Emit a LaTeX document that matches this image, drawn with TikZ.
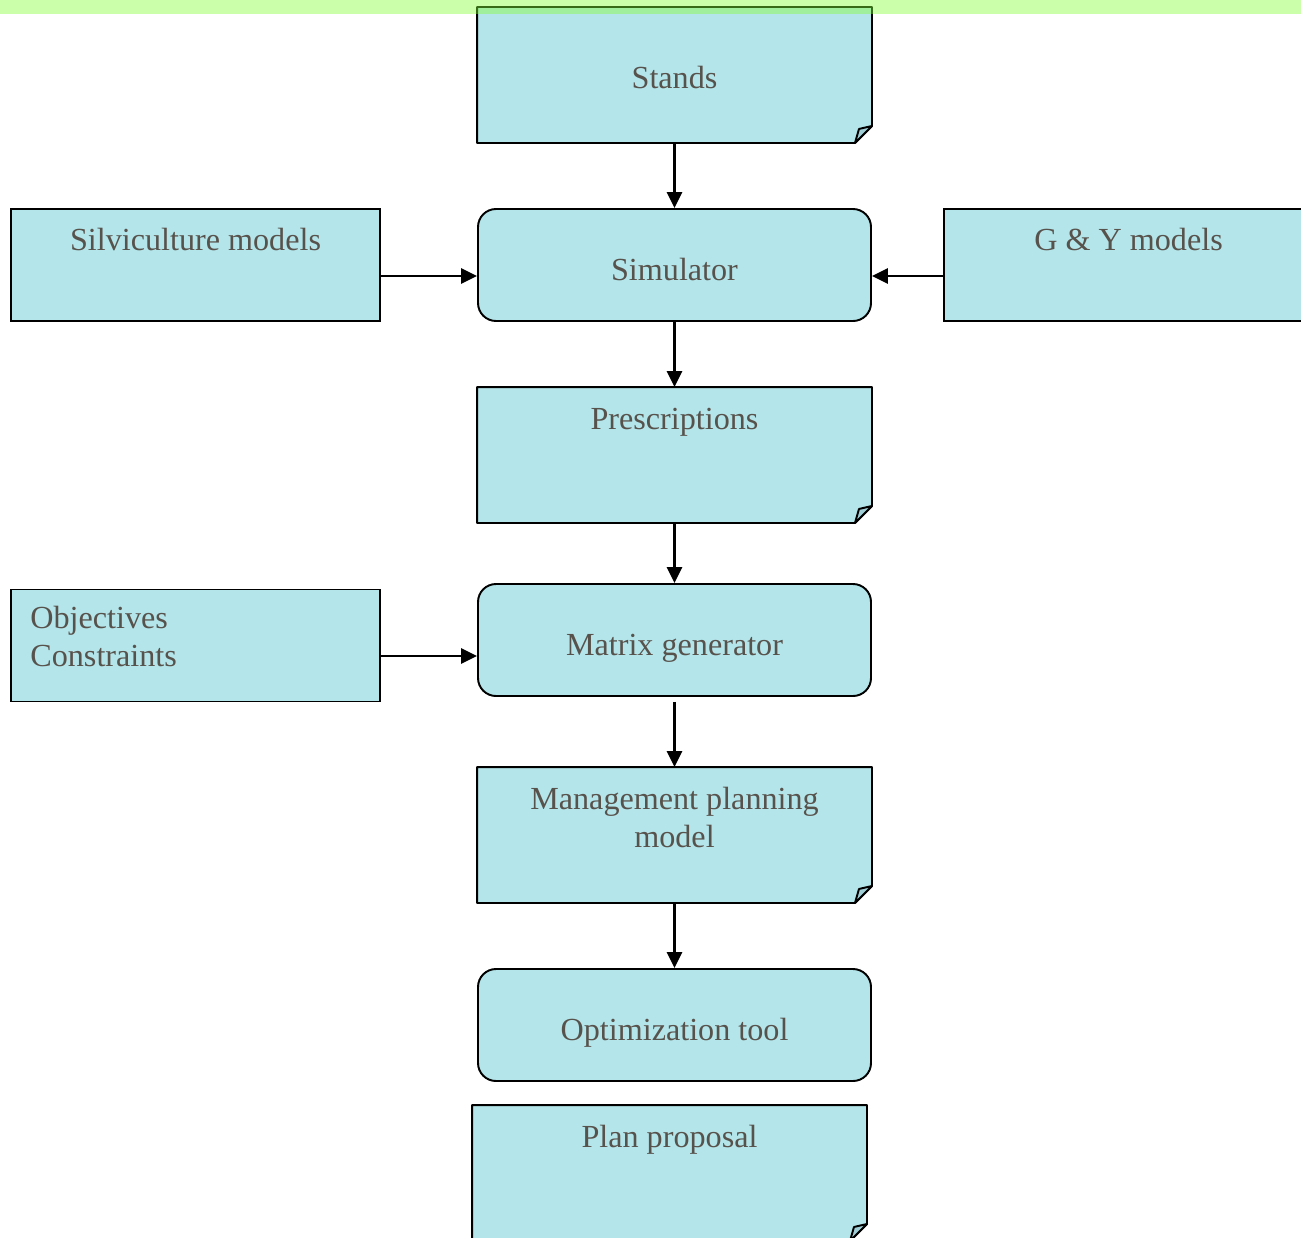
\documentclass[tikz,border=0pt]{standalone}
\usepackage{fontspec}
\setmainfont{Liberation Serif}
\usepackage{tikz}
\usetikzlibrary{arrows.meta}

\definecolor{boxcyan}{RGB}{179,229,234}
\definecolor{foldcyan}{RGB}{160,206,214}
\definecolor{textgray}{RGB}{88,82,76}
\definecolor{bandgreen}{RGB}{133,255,52}

\tikzset{
  box/.style={rectangle, draw=black, line width=1.1pt, fill=boxcyan,
    minimum width=7.86cm, minimum height=2.24cm, inner sep=0pt},
  roundbox/.style={box, rounded corners=0.36cm, text height=0.74cm, text depth=0.14cm},
  sidebox/.style={box, minimum width=7.38cm},
  doc/.style={box, draw=none, fill=none, minimum height=2.68cm,
    append after command={\pgfextra{
      \filldraw[line width=1.1pt, line join=round, fill=boxcyan]
        (\tikzlastnode.north west) -- (\tikzlastnode.north east)
        -- ([yshift=0.34cm]\tikzlastnode.south east) -- ([xshift=-0.34cm]\tikzlastnode.south east)
        -- (\tikzlastnode.south west) -- cycle;
      \filldraw[line width=1.1pt, line join=round, fill=foldcyan]
        ([xshift=-0.34cm]\tikzlastnode.south east)
        -- ([xshift=-0.26cm,yshift=0.28cm]\tikzlastnode.south east)
        -- ([yshift=0.34cm]\tikzlastnode.south east) -- cycle;
    }}},
  toptext/.style={label={[anchor=base, align=center, inner sep=0pt, yshift=-0.85cm]north:#1}}
}

\begin{document}
\begin{tikzpicture}[every node/.style={font=\fontsize{18.3}{21.5}\selectfont, text=textgray}]
  \useasboundingbox (0,0) rectangle (26.02,-24.74);

  % boxes
  \node[doc, text height=0.70cm, text depth=0.14cm] (St) at (13.49,-1.5) {Stands};
  \node[roundbox] (Sim) at (13.49,-5.3) {Simulator};
  \node[sidebox, toptext={Silviculture models}] (Sv) at (3.91,-5.3) {};
  \node[sidebox, toptext={G \& Y models}] (GY) at (22.57,-5.3) {};
  \node[doc, toptext={Prescriptions}] (Pr) at (13.49,-9.1) {};
  \node[roundbox] (Mx) at (13.49,-12.8) {Matrix generator};
  \node[sidebox, label={[anchor=base west, align=left, inner sep=0pt, xshift=0.4cm, yshift=-1.56cm]north west:Objectives\\Constraints}] (Ob) at (3.91,-12.91) {};
  \node[doc, label={[anchor=base, align=center, inner sep=0pt, yshift=-1.6cm]north:Management planning\\model}] (Mg) at (13.49,-16.7) {};
  \node[roundbox] (Op) at (13.49,-20.5) {Optimization tool};
  \node[doc, toptext={Plan proposal}] (Pl) at (13.39,-23.46) {};

  % arrows
  \begin{scope}[>={Triangle[length=0.32cm,width=0.3cm]}, line width=1.5pt]
    \draw [->] (St) -- (Sim);
    \draw [->] ([yshift=-0.22cm]Sv.east) -- ([yshift=-0.22cm]Sim.west);
    \draw [->] ([yshift=-0.22cm]GY.west) -- ([yshift=-0.22cm]Sim.east);
    \draw [->] (Sim) -- (Pr);
    \draw [->] (Pr) -- (Mx);
    \draw [->] ([yshift=-0.21cm]Ob.east) -- ([yshift=-0.21cm]Ob.east -| Mx.west);
    \draw [->, shorten <=0.1cm] (Mx) -- (Mg);
    \draw [->] (Mg) -- (Op);
  \end{scope}

  % band on top
  \fill[bandgreen, opacity=0.42] (0,0) rectangle (26.02,-0.28);
\end{tikzpicture}
\end{document}
